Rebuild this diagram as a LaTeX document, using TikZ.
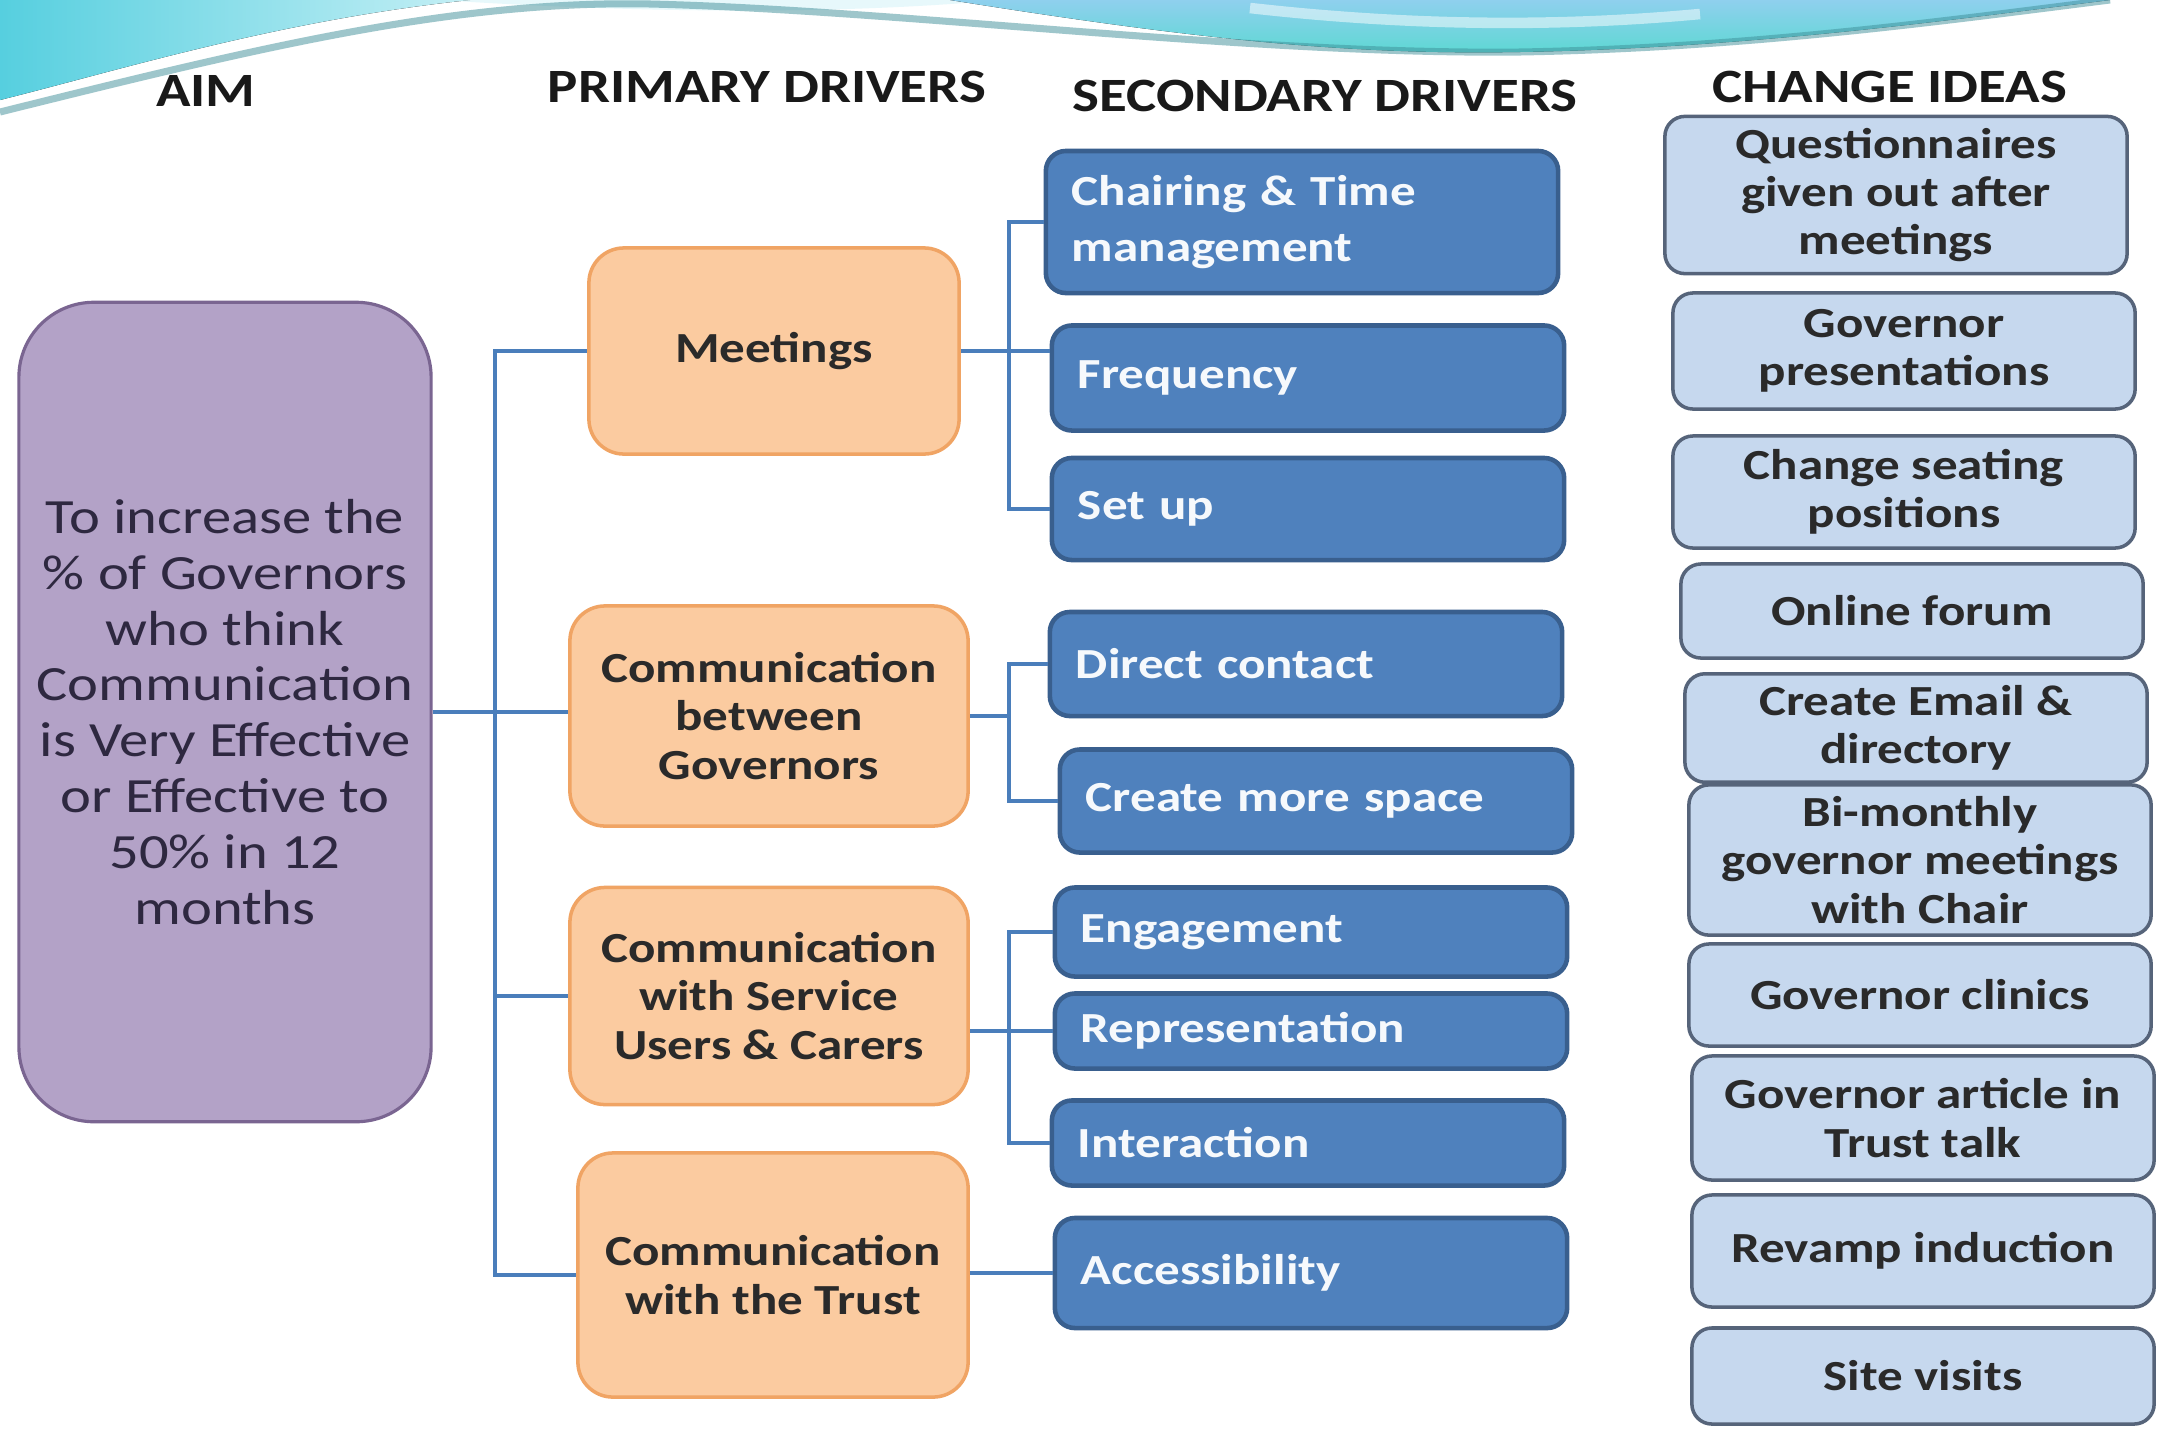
\documentclass[tikz,border=0pt]{standalone}
\usepackage{fontspec}
\setmainfont{Carlito}[FakeStretch=1.19]
\usepackage{tikz}
\usetikzlibrary{calc,positioning}

\definecolor{aimfill}{HTML}{B3A2C7}
\definecolor{aimline}{HTML}{7A6591}
\definecolor{aimtext}{HTML}{2E2840}
\definecolor{primfill}{HTML}{FBCBA0}
\definecolor{primline}{HTML}{F0A464}
\definecolor{secfill}{HTML}{4F81BD}
\definecolor{secline}{HTML}{395F8E}
\definecolor{ideafill}{HTML}{C6D8EE}
\definecolor{idealine}{HTML}{56647A}
\definecolor{linkblue}{HTML}{4A7EBB}
\definecolor{darktext}{HTML}{2A2A2A}
\definecolor{wavecyan}{HTML}{56CFDF}
\definecolor{wavelight}{HTML}{C4EFF5}
\definecolor{wavesky}{HTML}{8FD0EE}
\definecolor{wavegreen}{HTML}{5CD8D2}
\definecolor{wavedark}{HTML}{3E8E98}

\begin{document}
\begin{tikzpicture}[x=0.01cm, y=-0.01cm,
    head/.style={font=\bfseries\fontsize{13.6}{15}\selectfont, text=black!90},
    aimbox/.style={draw=aimline, line width=0.9pt, fill=aimfill, rounded corners=0.75cm,
        align=center, text=aimtext, font=\fontsize{14}{15.9}\selectfont},
    primbox/.style={draw=primline, line width=1pt, fill=primfill, rounded corners=0.35cm,
        align=center, text=darktext, font=\bfseries\fontsize{12.2}{13.9}\selectfont},
    secbox/.style={draw=secline, line width=1.3pt, fill=secfill, rounded corners=0.2cm,
        minimum width=5.12cm, text width=4.6cm, align=left, text=white!95!secfill,
        font=\bfseries\fontsize{12.2}{16}\selectfont},
    ideabox/.style={draw=idealine, line width=1pt, fill=ideafill, rounded corners=0.2cm,
        minimum width=4.62cm, align=center, text=darktext,
        font=\bfseries\fontsize{12.2}{13.7}\selectfont},
    link/.style={draw=linkblue, line width=0.9pt}
]
\useasboundingbox (0,0) rectangle (2158,1433);
\fill[white] (0,0) rectangle (2158,1433);

\fill[left color=wavecyan, right color=wavelight] (0,0) -- (0,100) .. controls (120,70) and (280,20) .. (470,0) -- cycle;
\fill[wavelight, opacity=0.4] (440,0) .. controls (650,14) and (850,14) .. (1000,0) -- cycle;
\fill[top color=wavesky, bottom color=wavegreen] (950,0) .. controls (1200,40) and (1350,55) .. (1520,52) .. controls (1750,48) and (1950,20) .. (2110,0) -- cycle;
\draw[white, line width=3pt, opacity=0.5] (1250,8) .. controls (1400,25) and (1550,28) .. (1700,14);
\draw[wavedark, line width=2pt, opacity=0.5] (0,112) .. controls (250,50) and (450,0) .. (650,4) .. controls (900,10) and (1250,55) .. (1520,52) .. controls (1750,48) and (1950,20) .. (2110,0);

\node[head] (haim) at (206, 91) {AIM};
\node[head] (hprim) at (767, 87) {PRIMARY DRIVERS};
\node[head] (hsec) at (1325, 96) {SECONDARY DRIVERS};
\node[head] (hidea) at (1890, 87) {CHANGE IDEAS};

\node[aimbox, minimum width=4.12cm, minimum height=8.19cm] (aim) at (225, 712)
    {To increase the\\\% of Governors\\who think\\Communication\\is Very Effective\\or Effective to\\50\% in 12\\months};

\node[primbox, minimum width=3.70cm, minimum height=2.06cm] (meet) at (774, 351) {Meetings};
\node[primbox, minimum width=3.98cm, minimum height=2.20cm] (betw) at (769, 716) {Communication\\between\\Governors};
\node[primbox, minimum width=3.98cm, minimum height=2.17cm] (serv) at (769, 996) {Communication\\with Service\\Users \& Carers};
\node[primbox, minimum width=3.90cm, minimum height=2.44cm] (trust) at (773, 1275) {Communication\\with the Trust};

\node[secbox, minimum height=1.42cm] (chair) at (1302, 222) {Chairing \& Time\\management};
\node[secbox, minimum height=1.05cm] (freq) at (1308, 378) {Frequency};
\node[secbox, minimum height=1.02cm] (setup) at (1308, 509) {Set up};
\node[secbox, minimum height=1.04cm] (direct) at (1306, 664) {Direct contact};
\node[secbox, minimum height=1.03cm] (space) at (1316, 801) {Create more space};
\node[secbox, minimum height=0.89cm] (engage) at (1311, 932) {Engagement};
\node[secbox, minimum height=0.75cm] (repr) at (1311, 1031) {Representation};
\node[secbox, minimum height=0.85cm] (inter) at (1308, 1143) {Interaction};
\node[secbox, minimum height=1.10cm] (access) at (1311, 1273) {Accessibility};

\node[ideabox, minimum height=1.56cm] (quest) at (1896, 195) {Questionnaires\\given out after\\meetings};
\node[ideabox, minimum height=1.16cm] (pres) at (1904, 351) {Governor\\presentations};
\node[ideabox, minimum height=1.12cm] (seat) at (1904, 492) {Change seating\\positions};
\node[ideabox, minimum height=0.94cm] (forum) at (1912, 611) {Online forum};
\node[ideabox, minimum height=1.08cm] (email) at (1916, 728) {Create Email \&\\directory};
\node[ideabox, minimum height=1.45cm] (bimon) at (1920, 860) {Bi-monthly\\governor meetings\\with Chair};
\node[ideabox, minimum height=1.02cm] (clinic) at (1920, 995) {Governor clinics};
\node[ideabox, minimum height=1.24cm] (article) at (1923, 1118) {Governor article in\\Trust talk};
\node[ideabox, minimum height=1.12cm] (induct) at (1923, 1251) {Revamp induction};
\node[ideabox, minimum height=0.96cm] (visit) at (1923, 1376) {Site visits};

\coordinate (pb) at (495, 716);
\coordinate (sb) at (1009, 716);

\draw[link] (aim.east) -- (betw.west |- aim.east);
\draw[link] (meet.west) -- (meet.west -| pb) -- (trust.west -| pb) -- (trust.west);
\draw[link] (serv.west -| pb) -- (serv.west);

\draw[link] (meet.east) -- (freq.west |- meet.east);
\draw[link] (chair.west) -- (chair.west -| sb) -- (setup.west -| sb) -- (setup.west);

\draw[link] (betw.east) -- (betw.east -| sb);
\draw[link] (direct.west) -- (direct.west -| sb) -- (space.west -| sb) -- (space.west);

\draw[link] (serv.east |- repr.west) -- (repr.west);
\draw[link] (engage.west) -- (engage.west -| sb) -- (inter.west -| sb) -- (inter.west);

\draw[link] (trust.east |- access.west) -- (access.west);
\end{tikzpicture}
\end{document}
